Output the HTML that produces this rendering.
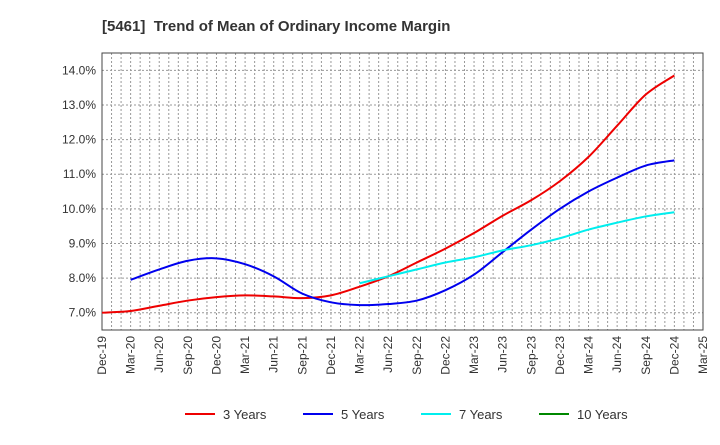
<!DOCTYPE html>
<html><head><meta charset="utf-8"><style>
body{margin:0;background:#fff;font-family:"Liberation Sans",sans-serif}
</style></head><body>
<svg id="c" width="720" height="440" xmlns="http://www.w3.org/2000/svg" font-family="Liberation Sans, sans-serif"></svg>
<script>
const xLabels=["Dec-19","Mar-20","Jun-20","Sep-20","Dec-20","Mar-21","Jun-21","Sep-21","Dec-21","Mar-22","Jun-22","Sep-22","Dec-22","Mar-23","Jun-23","Sep-23","Dec-23","Mar-24","Jun-24","Sep-24","Dec-24","Mar-25"];
const yTicks=[7,8,9,10,11,12,13,14];
const s3=[7.0,7.05,7.2,7.35,7.45,7.5,7.47,7.42,7.5,7.75,8.05,8.45,8.85,9.3,9.8,10.25,10.8,11.5,12.4,13.3,13.85];
const s5=[null,7.95,8.25,8.5,8.57,8.4,8.05,7.55,7.3,7.22,7.25,7.35,7.65,8.1,8.75,9.4,10.0,10.5,10.9,11.25,11.4];
const s7=[null,null,null,null,null,null,null,null,null,7.85,8.05,8.25,8.45,8.6,8.8,8.95,9.15,9.4,9.6,9.78,9.9];
const s10=[];
const L=102,R=703,T=53,B=330,ymin=6.5,ymax=14.5;
const X=i=>L+(R-L)*i/21, Y=v=>B-(B-T)*(v-ymin)/(ymax-ymin);
const svg=document.getElementById('c');const NS="http://www.w3.org/2000/svg";
function el(t,a,p){const e=document.createElementNS(NS,t);for(const k in a)e.setAttribute(k,a[k]);(p||svg).appendChild(e);return e;}
const title=el('text',{x:102,y:31,'font-size':15,'font-weight':'bold',fill:'#333'});
title.setAttributeNS("http://www.w3.org/XML/1998/namespace","xml:space","preserve");
title.style.whiteSpace='pre';
title.textContent="[5461]  Trend of Mean of Ordinary Income Margin";

const grid=el('g',{stroke:'#999','stroke-width':1,'stroke-dasharray':'2,2'});

for(let m=1;m<63;m++){const x=L+(R-L)*m/63;el('line',{x1:x,x2:x,y1:T,y2:B},grid);}
yTicks.forEach(v=>{el('line',{x1:L,x2:R,y1:Y(v),y2:Y(v)},grid);
const t=el('text',{x:L-6,y:Y(v)+4,'font-size':12,'text-anchor':'end',fill:'#333'});t.textContent=v.toFixed(1)+'%';
});
const fr=el('rect',{x:L,y:T,width:R-L,height:B-T,fill:'none',stroke:'#444','stroke-width':1});

xLabels.forEach((l,i)=>{const x=X(i);const t=el('text',{transform:`translate(${x+4},${B+6}) rotate(-90)`,'font-size':12,'text-anchor':'end',fill:'#333'});t.textContent=l;
});
function path(arr,color,name){const pts=[];arr.forEach((v,i)=>{if(v!=null)pts.push([X(i),Y(v)]);});if(pts.length<2)return;
let d=`M${pts[0][0]},${pts[0][1]}`;for(let i=0;i<pts.length-1;i++){const p0=pts[Math.max(0,i-1)],p1=pts[i],p2=pts[i+1],p3=pts[Math.min(pts.length-1,i+2)];
d+=` C${p1[0]+(p2[0]-p0[0])/6},${p1[1]+(p2[1]-p0[1])/6} ${p2[0]-(p3[0]-p1[0])/6},${p2[1]-(p3[1]-p1[1])/6} ${p2[0]},${p2[1]}`;}
const p=el('path',{d,fill:'none',stroke:color,'stroke-width':2});}
path(s3,'#ee0000','line-3-years');path(s5,'#0000ee','line-5-years');path(s7,'#00eeee','line-7-years');path(s10,'#008800','line-10-years');
[["3 Years","#ee0000",185],["5 Years","#0000ee",303],["7 Years","#00eeee",421],["10 Years","#008800",539]].forEach(([n,c,x])=>{
const g=el('g',{});
el('line',{x1:x,x2:x+30,y1:414,y2:414,stroke:c,'stroke-width':2},g);
const t=el('text',{x:x+38,y:419,'font-size':13,fill:'#333'},g);t.textContent=n;});
</script>
</body></html>
